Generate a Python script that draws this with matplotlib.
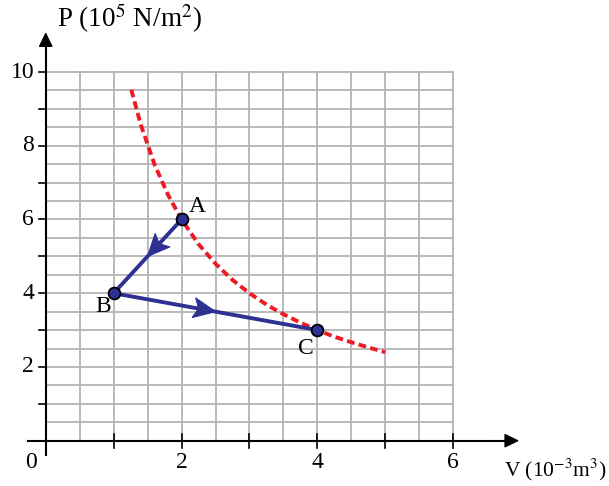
import matplotlib
matplotlib.use("Agg")
import matplotlib.pyplot as plt
from matplotlib.patches import Polygon
import numpy as np

plt.rcParams['font.family'] = ['Liberation Serif', 'DejaVu Serif']
plt.rcParams['mathtext.fontset'] = 'stix'

# --- data ---
state_names = ['A', 'B', 'C']
state_V = [2.0, 1.0, 4.0]      # 10^-3 m^3
state_P = [6.0, 4.0, 3.0]      # 10^5 N/m^2
iso_V = [1.26, 1.4, 1.6, 1.8, 2.0, 2.25, 2.5, 2.75, 3.0, 3.25, 3.5, 3.75,
         4.0, 4.25, 4.5, 4.75, 5.0]
iso_P = [9.52, 8.57, 7.5, 6.67, 6.0, 5.33, 4.8, 4.36, 4.0, 3.69, 3.43, 3.2,
         3.0, 2.82, 2.67, 2.53, 2.4]
x_tick_labels = ['2', '4', '6']
x_tick_vals = [2, 4, 6]
y_tick_labels = ['10', '8', '6', '4', '2']
y_tick_vals = [10, 8, 6, 4, 2]

blue = '#2e3192'
red = '#ed1c24'
grid_c = '#b4b4b4'

fig = plt.figure(figsize=(6.09, 4.86), dpi=100)
ax = fig.add_axes([0, 0, 1, 1])
ax.set_xlim(-0.673, 8.293)
ax.set_ylim(-1.229, 11.953)
ax.axis('off')

# grid
for xv in np.arange(0.5, 6.01, 0.5):
    ax.plot([xv, xv], [0, 10], color=grid_c, lw=1.3, zorder=1)
for yv in np.arange(0.5, 10.01, 0.5):
    ax.plot([0, 6], [yv, yv], color=grid_c, lw=1.3, zorder=1)

# axes with arrows
ax.plot([-0.26, 6.8], [0, 0], color='black', lw=1.5, zorder=3)
ax.annotate('', xy=(6.97, 0), xytext=(6.5, 0),
            arrowprops=dict(arrowstyle='-|>,head_length=0.45,head_width=0.22',
                            color='black', lw=1.0, mutation_scale=20,
                            shrinkA=0, shrinkB=0), zorder=3)
ax.plot([0, 0], [-0.39, 10.7], color='black', lw=1.5, zorder=3)
ax.annotate('', xy=(0, 11.08), xytext=(0, 10.5),
            arrowprops=dict(arrowstyle='-|>,head_length=0.45,head_width=0.22',
                            color='black', lw=1.0, mutation_scale=20,
                            shrinkA=0, shrinkB=0), zorder=3)

# ticks
for xv in range(1, 7):
    ax.plot([xv, xv], [-0.19, 0.19], color='black', lw=1.2, zorder=3)
for yv in range(1, 11):
    ax.plot([-0.105, 0], [yv, yv], color='black', lw=1.2, zorder=3)

# tick labels
for v, lab in zip(x_tick_vals, x_tick_labels):
    ax.text(v, -0.6, lab, ha='center', va='center', fontsize=17)
ax.text(-0.216, -0.6, '0', ha='center', va='center', fontsize=17)
for v, lab in zip(y_tick_vals, y_tick_labels):
    ax.text(-0.17, v, lab, ha='right', va='center', fontsize=17)

# axis titles
ax.text(0.16, 11.45, 'P (10$^{5}$ N/m$^{2}$)', ha='left', va='center', fontsize=19.5)
ax.text(6.74, -0.8, 'V (10$^{-3}$m$^{3}$)', ha='left', va='center', fontsize=15.5)

# isotherm
ax.plot(iso_V, iso_P, color=red, lw=2.8, linestyle=(0, (2.0, 1.1)), zorder=4)

# process lines A->B->C
ax.plot(state_V[:2], state_P[:2], color=blue, lw=2.8, zorder=5, solid_capstyle='round')
ax.plot(state_V[1:], state_P[1:], color=blue, lw=2.8, zorder=5, solid_capstyle='round')

# concave arrowheads at segment midpoints (built in display space, mapped back to data)
inv = ax.transData.inverted()
L, W, notch = 22.0, 10.0, 0.22
for i in range(2):
    p0 = ax.transData.transform((state_V[i], state_P[i]))
    p1 = ax.transData.transform((state_V[i + 1], state_P[i + 1]))
    tip = (p0 + p1) / 2
    d = (p1 - p0) / np.hypot(*(p1 - p0))
    n = np.array([-d[1], d[0]])
    verts_disp = np.array([tip,
                           tip - L * d + W * n,
                           tip - (1 - notch) * L * d,
                           tip - L * d - W * n])
    verts = inv.transform(verts_disp)
    ax.add_patch(Polygon(verts, closed=True, facecolor=blue, edgecolor=blue,
                         lw=0.8, zorder=6))

ax.plot(state_V, state_P, 'o', ms=8.5, mfc=blue, mec='black', mew=1.3,
        linestyle='none', zorder=7)

label_pos = {'A': (2.227, 6.34), 'B': (0.844, 3.63), 'C': (3.83, 2.51)}
for n in state_names:
    ax.text(*label_pos[n], n, ha='center', va='center', fontsize=17, zorder=8)

fig.savefig('out.png', dpi=100)
